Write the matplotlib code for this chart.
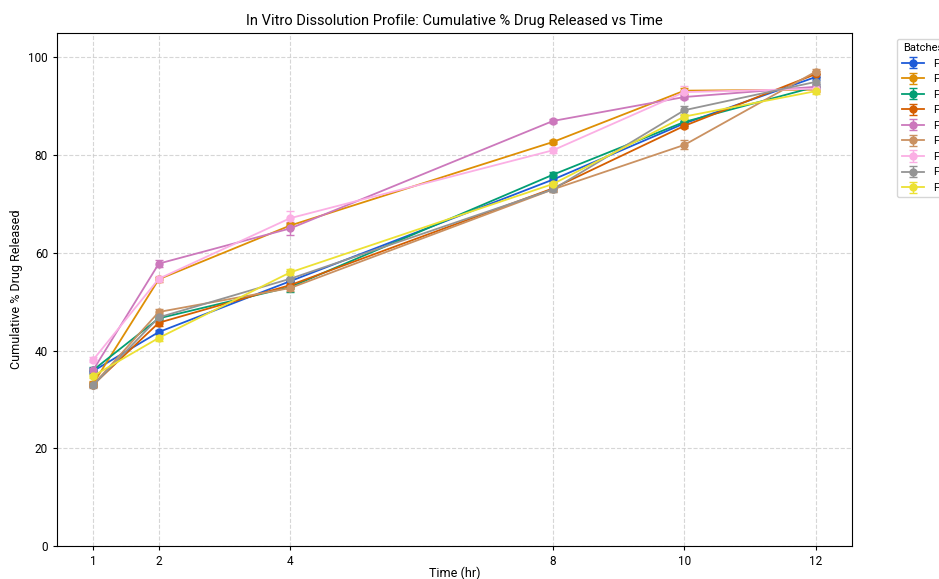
import numpy as np
import matplotlib
matplotlib.use("Agg")
import matplotlib.pyplot as plt

# time points (hr)
time = [1, 2, 4, 8, 10, 12]
batches = ["F1", "F2", "F3", "F4", "F5", "F6", "F7", "F8", "F9"]

# mean cumulative % released per batch
f1 = [35.8, 43.8, 54.2, 75.0, 86.5, 96.0]
f2 = [33.2, 54.6, 65.6, 82.7, 93.2, 93.4]
f3 = [36.0, 46.6, 53.0, 76.0, 86.8, 94.0]
f4 = [33.0, 45.7, 53.4, 73.2, 86.0, 96.6]
f5 = [36.0, 57.8, 65.0, 87.0, 91.9, 94.0]
f6 = [33.0, 47.9, 52.8, 73.0, 82.1, 97.1]
f7 = [38.1, 54.7, 67.1, 81.0, 92.9, 93.6]
f8 = [32.9, 46.8, 54.7, 73.0, 89.2, 95.0]
f9 = [34.8, 42.6, 56.0, 74.1, 87.9, 93.1]

# standard deviations
e1 = [0.6, 0.5, 0.7, 0.6, 0.5, 0.6]
e2 = [0.5, 0.5, 0.6, 0.5, 0.6, 0.5]
e3 = [0.6, 0.6, 1.0, 0.6, 0.5, 0.5]
e4 = [0.5, 0.6, 0.8, 0.5, 0.5, 0.6]
e5 = [0.5, 0.7, 1.3, 0.4, 0.5, 0.5]
e6 = [0.5, 0.6, 0.7, 0.5, 0.9, 0.5]
e7 = [0.5, 0.6, 1.4, 0.5, 1.2, 0.6]
e8 = [0.5, 0.6, 1.5, 0.6, 0.9, 0.6]
e9 = [0.5, 0.6, 0.6, 0.5, 0.6, 0.5]

means = [f1, f2, f3, f4, f5, f6, f7, f8, f9]
errs = [e1, e2, e3, e4, e5, e6, e7, e8, e9]
colors = ["#1E5BD8", "#DE8F05", "#029E73", "#D55E00", "#CC78BC",
          "#CA9161", "#FBAFE4", "#949494", "#ECE133"]

plt.rcParams["font.family"] = ["Roboto", "DejaVu Sans"]

fig = plt.figure(figsize=(9.39, 5.79), dpi=100)
axis = fig.add_axes([0.0607, 0.057, 0.8466, 0.886])

for name, m, e, c in zip(batches, means, errs, colors):
    axis.errorbar(time, m, yerr=e, color=c, marker="o", markersize=5,
                  linewidth=1.3, capsize=3, elinewidth=1.0, label=name)

axis.set_ylim(0, 105)
axis.set_xticks(time)
axis.set_yticks([0, 20, 40, 60, 80, 100])
axis.tick_params(labelsize=8.5, length=3)
axis.grid(True, linestyle="--", color="#cccccc", alpha=0.8, linewidth=0.8)
axis.set_xlabel("Time (hr)", fontsize=9, labelpad=-1)
axis.set_ylabel("Cumulative % Drug Released", fontsize=9)
axis.set_title("In Vitro Dissolution Profile: Cumulative % Drug Released vs Time",
               fontsize=10.5, pad=6)
axis.legend(title="Batches", bbox_to_anchor=(1.05, 1), loc="upper left",
            fontsize=8, title_fontsize=8)

fig.savefig("out.png", dpi=100)
